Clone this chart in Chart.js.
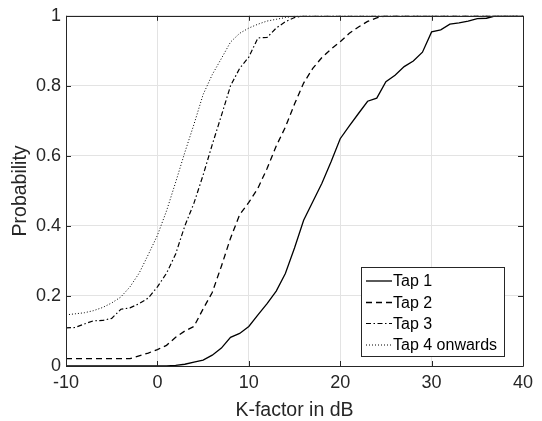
<!DOCTYPE html>
<html>
<head>
<meta charset="utf-8">
<script src="https://cdn.jsdelivr.net/npm/chart.js@4"></script>
<style>
  html, body { margin: 0; padding: 0; background: #fff; }
  #wrap { width: 542px; height: 421px; position: relative; }
</style>
</head>
<body>
<div id="wrap"><canvas id="c" width="542" height="421"></canvas></div>
<script>
const kFactorDb = [-10,-9,-8,-7,-6,-5,-4,-3,-2,-1,0,1,2,3,4,5,6,7,8,9,10,11,12,13,14,15,16,17,18,19,20,21,22,23,24,25,26,27,28,29,30,31,32,33,34,35,36,37,38,39,40];

const tap1 = [0,0,0,0,0,0,0,0,0,0,0,0,0.002,0.005,0.011,0.017,0.031,0.051,0.082,0.093,0.113,0.146,0.178,0.214,0.264,0.337,0.416,0.469,0.522,0.583,0.649,0.686,0.721,0.756,0.765,0.812,0.830,0.855,0.871,0.896,0.954,0.960,0.976,0.980,0.985,0.992,0.993,1,1,1,1];

const tap2 = [0.021,0.021,0.021,0.021,0.021,0.021,0.021,0.021,0.029,0.037,0.047,0.059,0.082,0.100,0.113,0.163,0.210,0.285,0.365,0.432,0.467,0.508,0.564,0.628,0.682,0.748,0.808,0.850,0.881,0.905,0.926,0.950,0.968,0.984,0.994,1,1,1,1,1,1,1,1,1,1,1,1,1,1,1,1];

const tap3 = [0.109,0.110,0.120,0.129,0.130,0.136,0.162,0.166,0.178,0.194,0.226,0.265,0.320,0.400,0.465,0.545,0.632,0.715,0.800,0.850,0.882,0.937,0.938,0.965,0.983,0.995,1,1,1,1,1,1,1,1,1,1,1,1,1,1,1,1,1,1,1,1,1,1,1,1,1];

const tap4 = [0.146,0.149,0.152,0.158,0.167,0.180,0.197,0.226,0.265,0.318,0.373,0.443,0.525,0.610,0.690,0.775,0.832,0.878,0.925,0.950,0.965,0.976,0.985,0.990,0.995,0.999,1,1,1,1,1,1,1,1,1,1,1,1,1,1,1,1,1,1,1,1,1,1,1,1,1];

const seriesNames = ['Tap 1', 'Tap 2', 'Tap 3', 'Tap 4 onwards'];
const xTicks = [-10, 0, 10, 20, 30, 40];
const xTickLabels = ['-10', '0', '10', '20', '30', '40'];
const yTicks = [0, 0.2, 0.4, 0.6, 0.8, 1];
const yTickLabels = ['0', '0.2', '0.4', '0.6', '0.8', '1'];

const FONT = '"Liberation Sans", Arial, Helvetica, sans-serif';
const AXIS_COLOR = '#262626';

function pts(ys) { return kFactorDb.map((x, i) => ({x: x, y: ys[i]})); }

const dashes = [[], [6, 4], [5, 2.5, 1.5, 2.5], [1, 2]];
const widths = [1.3, 1.3, 1.2, 1.0];

const datasets = [tap1, tap2, tap3, tap4].map((d, i) => ({
  label: seriesNames[i],
  data: pts(d),
  borderColor: '#000',
  borderWidth: widths[i],
  borderDash: dashes[i],
  pointRadius: 0,
  fill: false,
  tension: 0
}));

const boxPlugin = {
  id: 'boxPlugin',
  afterDatasetsDraw(chart) {
    const ctx = chart.ctx;
    const a = chart.chartArea;
    const xs = chart.scales.x, ys = chart.scales.y;
    ctx.save();
    ctx.strokeStyle = AXIS_COLOR;
    ctx.lineWidth = 1;
    ctx.setLineDash([]);
    ctx.beginPath();
    ctx.rect(Math.round(a.left) + 0.5, Math.round(a.top) + 0.5, Math.round(a.right - a.left), Math.round(a.bottom - a.top));
    ctx.stroke();
    const tl = 5;
    ctx.beginPath();
    xTicks.forEach(v => {
      const px = Math.round(xs.getPixelForValue(v)) + 0.5;
      ctx.moveTo(px, a.bottom); ctx.lineTo(px, a.bottom - tl);
      ctx.moveTo(px, a.top); ctx.lineTo(px, a.top + tl);
    });
    yTicks.forEach(v => {
      const py = Math.round(ys.getPixelForValue(v)) + 0.5;
      ctx.moveTo(a.left, py); ctx.lineTo(a.left + tl, py);
      ctx.moveTo(a.right, py); ctx.lineTo(a.right - tl, py);
    });
    ctx.stroke();

    // legend
    const lx = 361.5, ly = 267.5, lw = 143, lh = 89;
    ctx.fillStyle = '#fff';
    ctx.fillRect(lx, ly, lw, lh);
    ctx.strokeStyle = AXIS_COLOR;
    ctx.strokeRect(lx, ly, lw, lh);
    const rows = [281, 302.5, 323.5, 345];
    ctx.font = '16px ' + FONT;
    ctx.textBaseline = 'middle';
    ctx.textAlign = 'left';
    chart.data.datasets.forEach((ds, i) => {
      const y = rows[i];
      ctx.save();
      ctx.strokeStyle = '#000';
      ctx.lineWidth = ds.borderWidth;
      ctx.setLineDash(ds.borderDash);
      ctx.beginPath();
      ctx.moveTo(366, y); ctx.lineTo(392, y);
      ctx.stroke();
      ctx.restore();
      ctx.fillStyle = '#000';
      ctx.fillText(ds.label, 393, y + 1);
    });
    ctx.restore();
  }
};

new Chart(document.getElementById('c'), {
  type: 'line',
  data: { datasets: datasets },
  plugins: [boxPlugin],
  options: {
    responsive: false,
    animation: false,
    devicePixelRatio: 1,
    layout: { padding: { left: 0, right: 19, top: 13, bottom: 0 } },
    plugins: { legend: { display: false }, tooltip: { enabled: false } },
    scales: {
      x: {
        type: 'linear',
        min: -10, max: 40,
        afterFit(s) { s.height = 55; },
        afterBuildTicks(s) { s.ticks = xTicks.map(v => ({value: v})); },
        grid: { color: '#e3e3e3', drawTicks: false, lineWidth: 1 },
        border: { display: false },
        ticks: {
          padding: 6, color: AXIS_COLOR, font: { family: FONT, size: 18 }, maxRotation: 0,
          callback: (v) => { const i = xTicks.indexOf(v); return i >= 0 ? xTickLabels[i] : ''; }
        },
        title: { display: true, text: 'K-factor in dB', color: AXIS_COLOR, font: { family: FONT, size: 19.5, lineHeight: 1 }, padding: { top: 0, bottom: 1 } }
      },
      y: {
        type: 'linear',
        min: 0, max: 1,
        afterFit(s) { s.width = 66; },
        afterBuildTicks(s) { s.ticks = yTicks.map(v => ({value: v})); },
        grid: { color: '#e3e3e3', drawTicks: false, lineWidth: 1 },
        border: { display: false },
        ticks: {
          padding: 5, color: AXIS_COLOR, font: { family: FONT, size: 18 },
          callback: (v) => { const i = yTicks.findIndex(t => Math.abs(t - v) < 1e-9); return i >= 0 ? yTickLabels[i] : ''; }
        },
        title: { display: true, text: 'Probability', color: AXIS_COLOR, font: { family: FONT, size: 19.5, lineHeight: 1 }, padding: { top: 11, bottom: 0 } }
      }
    }
  }
});
</script>
</body>
</html>
